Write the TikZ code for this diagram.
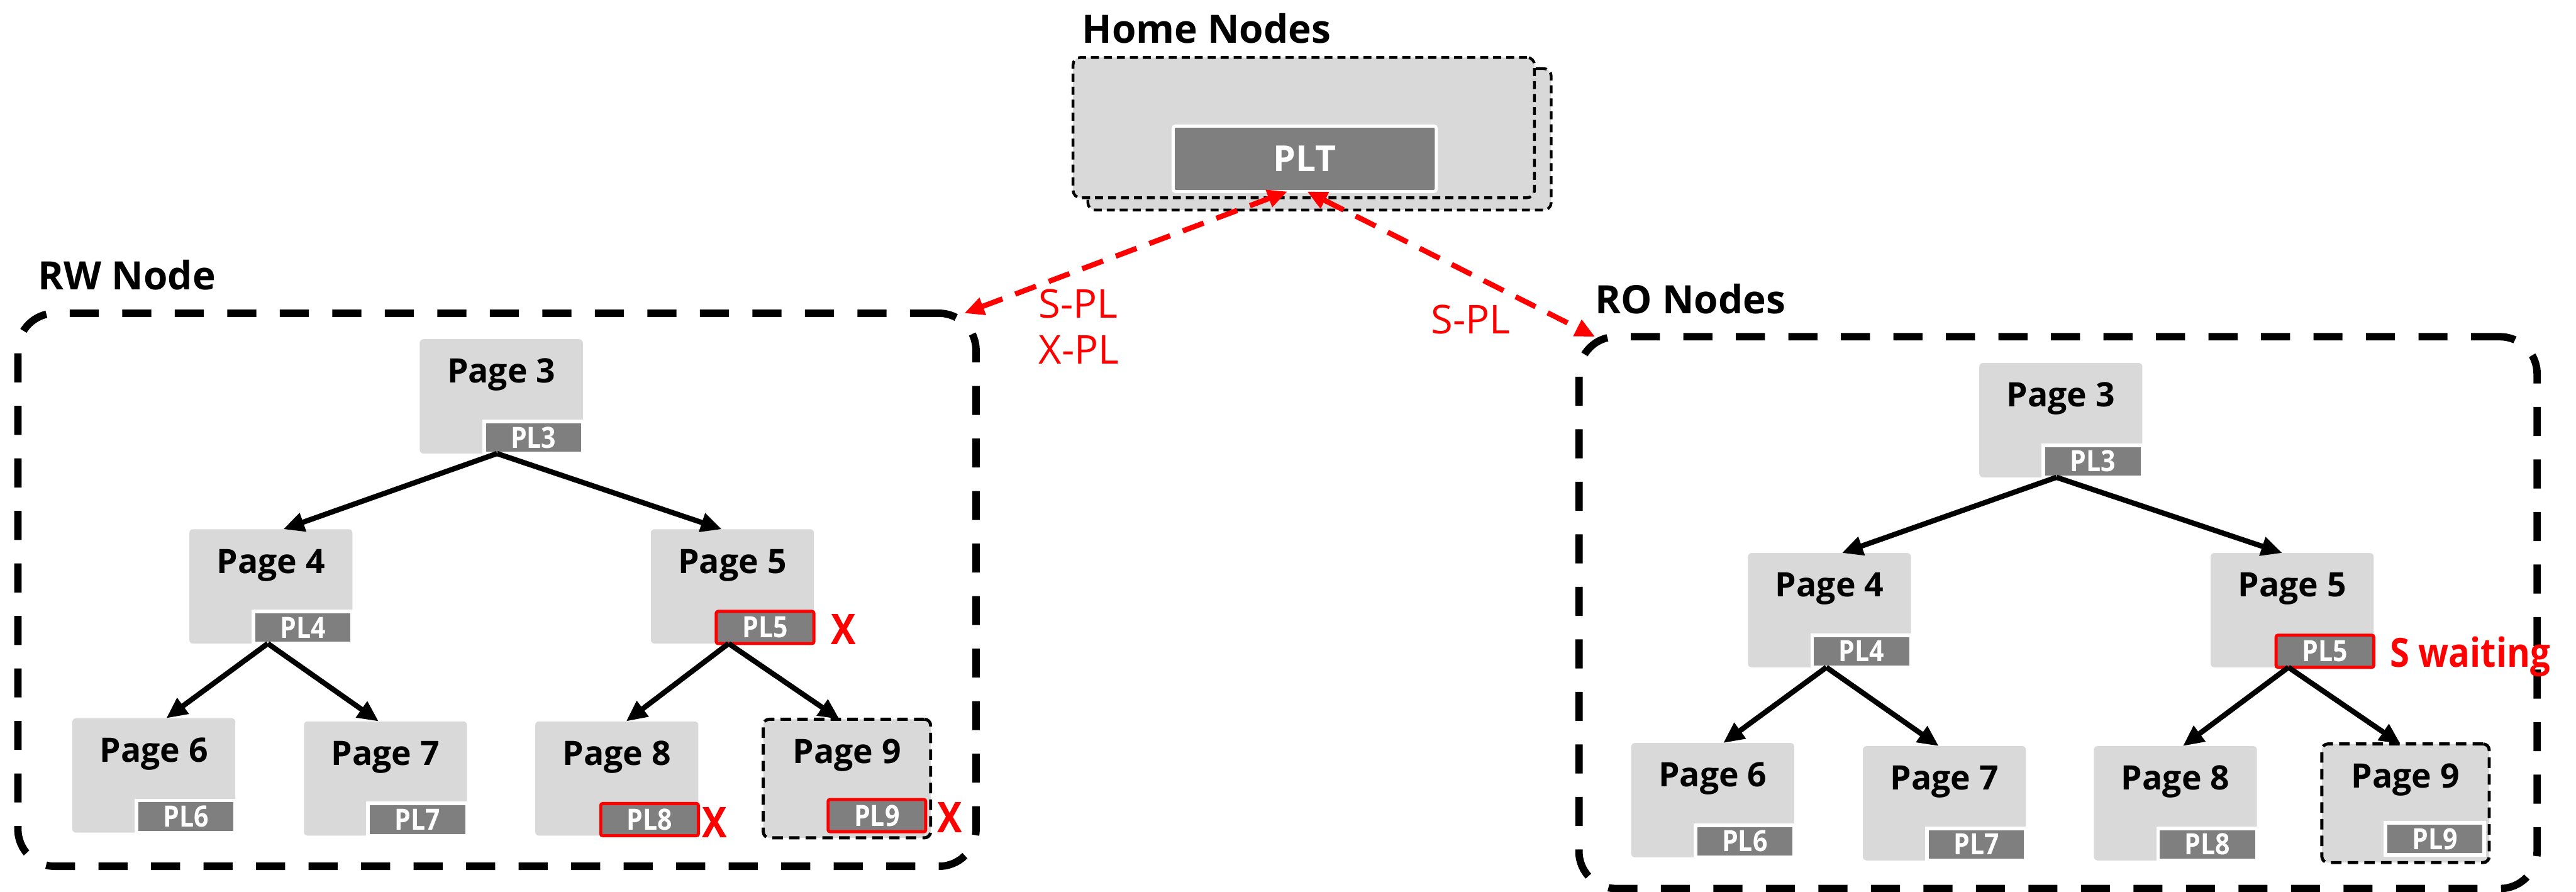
\documentclass[tikz,border=0pt]{standalone}
\usepackage{fontspec}
\setmainfont{Open Sans}
\newfontfamily\narrowsans[FakeStretch=0.88]{Open Sans}
\usetikzlibrary{arrows.meta,calc}

\definecolor{pagegray}{HTML}{D9D9D9}
\definecolor{taggray}{HTML}{7F7F7F}
\definecolor{lockred}{HTML}{FF0000}

\tikzset{
  groupbox/.style={draw=black, line width=0.12cm, dash pattern=on 0.47cm off 0.38cm,
    rounded corners=0.6cm, minimum width=15.51cm, inner sep=0, outer sep=0},
  grouptitle/.style={font=\bfseries\fontsize{18}{21}\selectfont, anchor=base west, inner sep=0},
  homebox/.style={draw=black, fill=pagegray, line width=0.045cm, dash pattern=on 0.13cm off 0.08cm,
    rounded corners=0.12cm, inner sep=0, outer sep=0},
  pltbox/.style={fill=taggray, draw=white, line width=0.05cm, rounded corners=0.04cm,
    minimum width=4.26cm, minimum height=1.06cm, inner sep=0, outer sep=0,
    text=white, font=\bfseries\fontsize{16.5}{19}\selectfont},
  pagebox/.style={fill=pagegray, rounded corners=0.06cm, minimum width=2.64cm, minimum height=1.85cm,
    inner sep=0, outer sep=0},
  lostpage/.style={pagebox, draw=black, line width=0.05cm, dash pattern=on 0.17cm off 0.10cm,
    rounded corners=0.1cm, minimum width=2.71cm, minimum height=1.92cm},
  pagetext/.style={font=\bfseries\fontsize{15.5}{18}\selectfont, anchor=base, inner sep=0},
  tagbox/.style={fill=taggray, draw=white, line width=0.06cm, minimum width=1.60cm, minimum height=0.52cm,
    inner sep=0, outer sep=0, text=white, font=\narrowsans\bfseries\fontsize{13.5}{15}\selectfont,
    anchor=south east},
  heldtag/.style={tagbox, draw=lockred, line width=0.05cm, rounded corners=0.03cm, minimum width=1.58cm},
  xmark/.style={text=lockred, font=\narrowsans\bfseries\fontsize{19.5}{23}\selectfont, anchor=base west, inner sep=0},
  msg/.style={text=lockred, font=\fontsize{18.3}{22}\selectfont, anchor=base west, inner sep=0},
  link/.style={-{Triangle[length=0.34cm,width=0.3cm]}, line width=0.085cm, black},
  lockmsg/.style={{Triangle[length=0.32cm,width=0.28cm]}-{Triangle[length=0.32cm,width=0.28cm]},
    lockred, line width=0.085cm, dash pattern=on 0.36cm off 0.22cm}
}

\begin{document}
\begin{tikzpicture}
\path[use as bounding box, fill=white] (0,0) rectangle (41.70,14.43);

% ---------- home nodes with the page lock table ----------
\node[grouptitle] (hometitle) at (17.51,13.73) {Home Nodes};
\node[homebox, minimum width=7.50cm, minimum height=2.29cm] (homeback) at (21.36,12.175) {};
\node[homebox, minimum width=7.47cm, minimum height=2.27cm] (home) at (21.105,12.365) {};
\node[pltbox] (plt) at (21.12,11.86) {PLT};

% ---------- read-write node ----------
\node[grouptitle] (rwtitle) at (0.61,9.74) {RW Node};
\node[groupbox, minimum height=8.95cm] (rw) at (8.045,4.885) {};

\node[pagebox] (r3) at (8.115,8.015) {};
\node[pagetext] (r3t) at ([yshift=-0.71cm]r3.north) {Page 3};
\node[tagbox] (r3l) at (r3.south east) {PL3};

\node[pagebox] (r4) at (4.385,4.94) {};
\node[pagetext] (r4t) at ([yshift=-0.71cm]r4.north) {Page 4};
\node[tagbox] (r4l) at (r4.south east) {PL4};

\node[pagebox] (r5) at (11.855,4.94) {};
\node[pagetext] (r5t) at ([yshift=-0.71cm]r5.north) {Page 5};
\node[heldtag] (r5l) at (r5.south east) {PL5};
\node[xmark] (r5x) at (13.45,4.00) {X};

\node[pagebox] (r6) at (2.49,1.88) {};
\node[pagetext] (r6t) at ([yshift=-0.71cm]r6.north) {Page 6};
\node[tagbox] (r6l) at (r6.south east) {PL6};

\node[pagebox] (r7) at (6.24,1.83) {};
\node[pagetext] (r7t) at ([yshift=-0.71cm]r7.north) {Page 7};
\node[tagbox] (r7l) at (r7.south east) {PL7};

\node[pagebox] (r8) at (9.985,1.83) {};
\node[pagetext] (r8t) at ([yshift=-0.71cm]r8.north) {Page 8};
\node[heldtag] (r8l) at (r8.south east) {PL8};
\node[xmark] (r8x) at (11.36,0.87) {X};

\node[lostpage] (r9) at (13.71,1.83) {};
\node[pagetext] (r9t) at ([yshift=-0.71cm]r9.north) {Page 9};
\node[heldtag] (r9l) at ([xshift=-0.08cm,yshift=0.10cm]r9.south east) {PL9};
\node[xmark] (r9x) at (15.17,0.96) {X};

\draw[link] ([xshift=-0.07cm]r3.south) -- ([xshift=0.20cm]r4.north);
\draw[link] ([xshift=-0.07cm]r3.south) -- ([xshift=-0.17cm]r5.north);
\draw[link] ([xshift=-0.05cm]r4.south) -- ([xshift=0.20cm]r6.north);
\draw[link] ([xshift=-0.05cm]r4.south) -- ([xshift=-0.11cm]r7.north);
\draw[link] ([xshift=-0.06cm]r5.south) -- ([xshift=0.15cm]r8.north);
\draw[link] ([xshift=-0.06cm]r5.south) -- ([xshift=-0.12cm]r9.north);

% ---------- read-only nodes ----------
\node[grouptitle] (rotitle) at (25.82,9.35) {RO Nodes};
\node[groupbox, minimum height=8.93cm] (ro) at (33.315,4.515) {};

\node[pagebox] (o3) at (33.36,7.63) {};
\node[pagetext] (o3t) at ([yshift=-0.71cm]o3.north) {Page 3};
\node[tagbox] (o3l) at (o3.south east) {PL3};

\node[pagebox] (o4) at (29.615,4.555) {};
\node[pagetext] (o4t) at ([yshift=-0.71cm]o4.north) {Page 4};
\node[tagbox] (o4l) at (o4.south east) {PL4};

\node[pagebox] (o5) at (37.105,4.555) {};
\node[pagetext] (o5t) at ([yshift=-0.71cm]o5.north) {Page 5};
\node[heldtag] (o5l) at (o5.south east) {PL5};
\node[xmark, font=\narrowsans\bfseries\fontsize{18.5}{22}\selectfont] (o5w) at (38.68,3.63) {S waiting};

\node[pagebox] (o6) at (27.725,1.48) {};
\node[pagetext] (o6t) at ([yshift=-0.71cm]o6.north) {Page 6};
\node[tagbox] (o6l) at (o6.south east) {PL6};

\node[pagebox] (o7) at (31.475,1.43) {};
\node[pagetext] (o7t) at ([yshift=-0.71cm]o7.north) {Page 7};
\node[tagbox] (o7l) at (o7.south east) {PL7};

\node[pagebox] (o8) at (35.215,1.43) {};
\node[pagetext] (o8t) at ([yshift=-0.71cm]o8.north) {Page 8};
\node[tagbox] (o8l) at (o8.south east) {PL8};

\node[lostpage] (o9) at (38.94,1.43) {};
\node[pagetext] (o9t) at ([yshift=-0.71cm]o9.north) {Page 9};
\node[tagbox] (o9l) at ([xshift=-0.08cm,yshift=0.12cm]o9.south east) {PL9};

\draw[link] ([xshift=-0.07cm]o3.south) -- ([xshift=0.20cm]o4.north);
\draw[link] ([xshift=-0.07cm]o3.south) -- ([xshift=-0.16cm]o5.north);
\draw[link] ([xshift=-0.05cm]o4.south) -- ([xshift=0.17cm]o6.north);
\draw[link] ([xshift=-0.05cm]o4.south) -- ([xshift=-0.09cm]o7.north);
\draw[link] ([xshift=-0.06cm]o5.south) -- ([xshift=0.12cm]o8.north);
\draw[link] ([xshift=-0.06cm]o5.south) -- ([xshift=-0.08cm]o9.north);

% ---------- lock requests to the home nodes ----------
\draw[lockmsg] ([xshift=-0.19cm]rw.north east) -- ([xshift=-0.28cm]plt.south);
\draw[lockmsg] ([xshift=0.04cm]plt.south) -- ([xshift=0.26cm]ro.north west);
\node[msg] (rwmsg1) at (16.81,9.28) {S-PL};
\node[msg] (rwmsg2) at (16.81,8.54) {X-PL};
\node[msg] (romsg) at (23.16,9.03) {S-PL};
\end{tikzpicture}
\end{document}
